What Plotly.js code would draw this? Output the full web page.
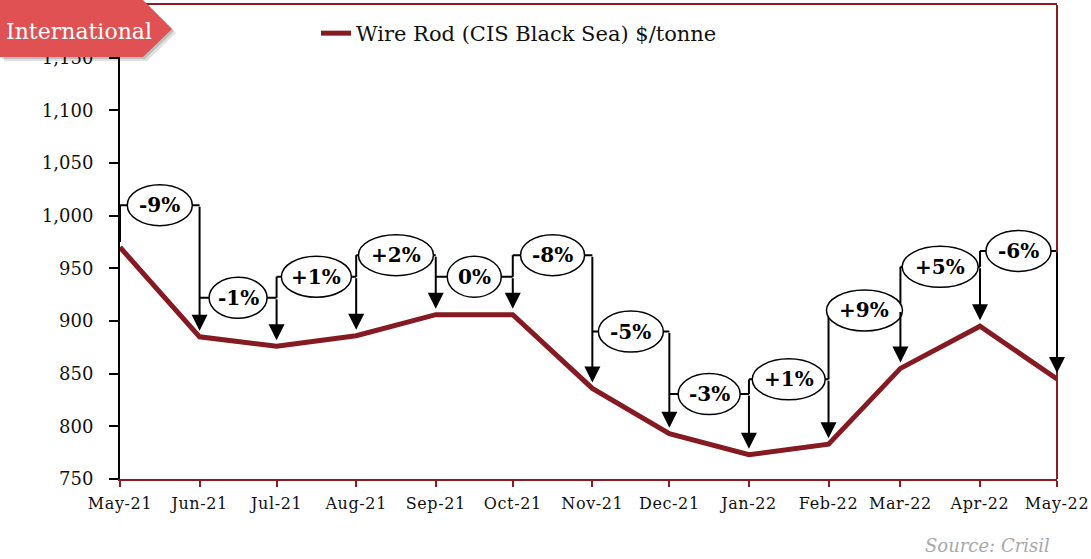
<!DOCTYPE html>
<html><head><meta charset="utf-8">
<script src="https://cdn.plot.ly/plotly-3.0.1.min.js"></script>
<style>html,body{margin:0;padding:0;background:#fff}#chart{width:1091px;height:559px}
.xtick text{letter-spacing:0.6px}
</style>
</head><body><div id="chart"></div>
<script>
// ---- data ----
const months = ['2021-05-01','2021-06-01','2021-07-01','2021-08-01','2021-09-01','2021-10-01','2021-11-01','2021-12-01','2022-01-01','2022-02-01','2022-03-01','2022-04-01','2022-05-01'];
const wireRodPrice = [970, 885, 876, 886, 906, 906, 836, 793, 773, 783, 855, 895, 845];
const seriesName = 'Wire Rod (CIS Black Sea) $/tonne';
const changeLabels = ['-9%','-1%','+1%','+2%','0%','-8%','-5%','-3%','+1%','+9%','+5%','-6%'];
// ---- callout layout (level of each bracket in $/tonne, bubble width in px) ----
const calloutLevel = [1010, 922, 942, 962.5, 942, 962.5, 890, 830.6, 844.6, 910, 951.4, 966.5];
const bubbleWidth = [65, 58, 70, 75, 54, 64, 65, 62, 73, 76, 76, 65];

const SERIF = 'DejaVu Serif, Liberation Serif, serif';
const AXRED = '#8E1B1F';
const LINERED = '#861A22';

const M = {l:120, r:34, t:5, b:80};
const W = 1091, H = 559;
const pw = W - M.l - M.r, ph = H - M.t - M.b;
const px = x => (x - M.l) / pw;
const py = y => (H - M.b - y) / ph;

function midDate(a, b){
  const t = (Date.parse(a + 'T00:00:00Z') + Date.parse(b + 'T00:00:00Z')) / 2;
  return new Date(t).toISOString().slice(0,19).replace('T',' ');
}

const shapes = [];
const annotations = [];
const BLK = {color:'#000', width:2};

// brackets
for (let i = 0; i < changeLabels.length; i++) {
  const lv = calloutLevel[i];
  shapes.push({type:'line', xref:'x', yref:'y', x0:months[i], x1:months[i+1], y0:lv, y1:lv, line:BLK, layer:'above'});
  if (i === 0) {
    shapes.push({type:'line', xref:'x', yref:'y', x0:months[0], x1:months[0], y0:lv, y1:wireRodPrice[0] + 5, line:BLK, layer:'above'});
  } else if (lv > calloutLevel[i-1]) {
    shapes.push({type:'line', xref:'x', yref:'y', x0:months[i], x1:months[i], y0:lv, y1:calloutLevel[i-1], line:BLK, layer:'above'});
  }
  annotations.push({
    x: months[i+1], y: wireRodPrice[i+1], xref:'x', yref:'y',
    ax: months[i+1], ay: lv, axref:'x', ayref:'y',
    text:'', showarrow:true, arrowhead:2, arrowsize:1.6, arrowwidth:2, arrowcolor:'#000',
    standoff:6, startstandoff:0
  });
}
// bubbles
for (let i = 0; i < changeLabels.length; i++) {
  const mid = midDate(months[i], months[i+1]);
  const w = bubbleWidth[i];
  shapes.push({type:'circle', xref:'x', yref:'y', xsizemode:'pixel', ysizemode:'pixel',
    xanchor: mid, yanchor: calloutLevel[i], x0:-w/2, x1:w/2, y0:-20.5, y1:20.5,
    fillcolor:'#fff', line:{color:'#000', width:1.5}, layer:'above'});
  annotations.push({x: mid, y: calloutLevel[i], xref:'x', yref:'y', text: '<b>' + changeLabels[i] + '</b>',
    showarrow:false, font:{family:SERIF, size:20, color:'#000'}});
}

// right border
shapes.push({type:'line', xref:'paper', yref:'paper', x0:1, x1:1, y0:0, y1:1, line:{color:AXRED, width:2}, layer:'above'});

// "International" flag with shadow
function flagPath(dx, dy){
  const pts = [[0,0],[143,0],[172,29],[143,57],[0,57]];
  return 'M' + pts.map(p => px(p[0]+dx) + ',' + py(p[1]+dy)).join('L') + 'Z';
}
shapes.push({type:'path', xref:'paper', yref:'paper', path: flagPath(4,4), fillcolor:'rgba(0,0,0,0.12)', line:{width:0}, layer:'above'});
shapes.push({type:'path', xref:'paper', yref:'paper', path: flagPath(2,2), fillcolor:'rgba(0,0,0,0.15)', line:{width:0}, layer:'above'});
shapes.push({type:'path', xref:'paper', yref:'paper', path: flagPath(0,0), fillcolor:'#DF5152', line:{width:0}, layer:'above'});
annotations.push({xref:'paper', yref:'paper', x: px(4), y: py(31), xanchor:'left', yanchor:'middle',
  text:'International', showarrow:false, font:{family:SERIF, size:22, color:'#fff'}});

// source
annotations.push({xref:'paper', yref:'paper', x: px(1052), y: py(545), xanchor:'right', yanchor:'middle',
  text:'<i>Source: Crisil</i>', showarrow:false, font:{family:SERIF, size:18, color:'#A8A8A8'}});

const trace = {
  x: months, y: wireRodPrice, name: seriesName, type:'scatter', mode:'lines',
  line:{color:LINERED, width:5}
};

const layout = {
  width: W, height: H, margin: M,
  paper_bgcolor:'#fff', plot_bgcolor:'#fff',
  showlegend: true,
  legend: {orientation:'h', x: px(316), y: py(13), xanchor:'left', yanchor:'top',
    font:{family:SERIF, size:21, color:'#111'}, bgcolor:'rgba(0,0,0,0)'},
  xaxis: {
    type:'date', range:['2021-05-01','2022-05-01'], tick0:'2021-05-01', dtick:'M1', tickformat:'%b-%y',
    showgrid:false, zeroline:false, showline:true, linecolor:AXRED, linewidth:2, mirror:true,
    ticks:'outside', ticklen:6, tickwidth:2, tickcolor:AXRED, ticklabelstandoff:3,
    tickfont:{family:SERIF, size:16, color:'#111'}
  },
  yaxis: {
    range:[750,1200], dtick:50, tick0:750, tickformat:',',
    showgrid:false, zeroline:false, showline:true, linecolor:'#000', linewidth:2,
    ticks:'outside', ticklen:9, tickwidth:2, tickcolor:'#000', ticklabelstandoff:12,
    tickfont:{family:SERIF, size:18, color:'#111'}
  },
  shapes, annotations
};

Plotly.newPlot('chart', [trace], layout, {displayModeBar:false, staticPlot:true});
</script>
</body></html>
